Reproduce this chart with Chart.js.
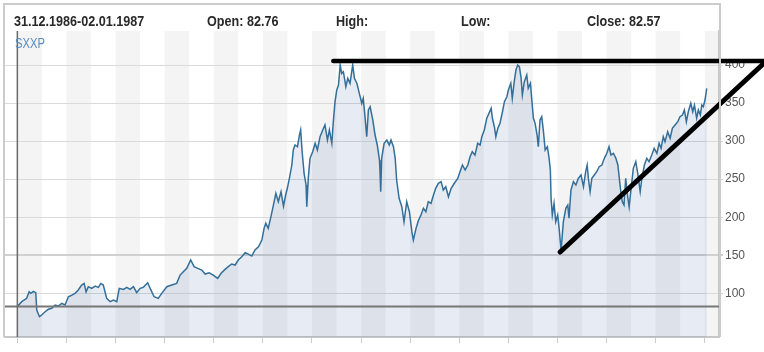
<!DOCTYPE html>
<html>
<head>
<meta charset="utf-8">
<title>SXXP</title>
<script src="https://cdn.jsdelivr.net/npm/chart.js@4.4.1/dist/chart.umd.min.js"></script>
<style>
  html, body { margin: 0; padding: 0; background: #fff; }
  #wrap { position: relative; width: 764px; height: 352px; overflow: hidden; }
  #chart { position: absolute; left: 0; top: 0; }
  .hdr {
    position: absolute; top: 13px; white-space: nowrap;
    font: bold 15px "Liberation Sans", Arial, sans-serif;
    line-height: 15px; color: #2a2a2a;
    transform: scaleX(0.84); transform-origin: 0 0;
  }
  #symbol {
    position: absolute; left: 15px; top: 36px;
    font: 14px "Liberation Sans", Arial, sans-serif;
    line-height: 14px; color: #5a8dbd;
    transform: scaleX(0.8); transform-origin: 0 0;
  }
</style>
</head>
<body>
<div id="wrap">
  <canvas id="chart" width="764" height="352"></canvas>
  <div class="hdr" style="left:14px">31.12.1986-02.01.1987</div>
  <div class="hdr" style="left:207px">Open: 82.76</div>
  <div class="hdr" style="left:336px">High:</div>
  <div class="hdr" style="left:461px">Low:</div>
  <div class="hdr" style="left:587px">Close: 82.57</div>
  <div id="symbol">SXXP</div>
</div>
<script>
// time as decimal years
const sxxpYears = [
  1987.00, 1987.18, 1987.38, 1987.48, 1987.55, 1987.65, 1987.75, 1987.79, 1987.90, 1987.99,
  1988.13, 1988.26, 1988.40, 1988.54, 1988.67, 1988.81, 1988.94, 1989.08, 1989.22, 1989.35,
  1989.48, 1989.62, 1989.72, 1989.80, 1989.89, 1990.03, 1990.17, 1990.30, 1990.40, 1990.50,
  1990.64, 1990.78, 1990.91, 1991.05, 1991.15, 1991.32, 1991.46, 1991.59, 1991.73, 1991.86,
  1992.00, 1992.13, 1992.31, 1992.43, 1992.57, 1992.74, 1992.88, 1993.09, 1993.29, 1993.49,
  1993.63, 1993.76, 1993.90, 1994.06, 1994.20, 1994.35, 1994.51, 1994.65, 1994.81, 1994.98,
  1995.16, 1995.30, 1995.46, 1995.59, 1995.73, 1995.87, 1996.00, 1996.14, 1996.28, 1996.41,
  1996.55, 1996.68, 1996.82, 1996.96, 1997.05, 1997.12, 1997.22, 1997.33, 1997.43, 1997.53,
  1997.63, 1997.74, 1997.84, 1997.93, 1998.01, 1998.08, 1998.18, 1998.24, 1998.31, 1998.41,
  1998.49, 1998.54, 1998.60, 1998.68, 1998.76, 1998.79, 1998.85, 1998.92, 1999.03, 1999.13,
  1999.22, 1999.33, 1999.44, 1999.53, 1999.63, 1999.71, 1999.81, 1999.87, 1999.94, 2000.01,
  2000.08, 2000.15, 2000.21, 2000.28, 2000.38, 2000.46, 2000.55, 2000.66, 2000.73, 2000.83,
  2000.93, 2001.03, 2001.09, 2001.16, 2001.23, 2001.30, 2001.37, 2001.48, 2001.57, 2001.66,
  2001.75, 2001.77, 2001.80, 2001.84, 2001.94, 2002.05, 2002.15, 2002.22, 2002.32, 2002.39,
  2002.45, 2002.55, 2002.66, 2002.75, 2002.86, 2002.97, 2003.07, 2003.13, 2003.24, 2003.33,
  2003.44, 2003.54, 2003.64, 2003.74, 2003.85, 2003.95, 2004.04, 2004.15, 2004.26, 2004.35,
  2004.45, 2004.56, 2004.67, 2004.80, 2004.94, 2005.03, 2005.13, 2005.24, 2005.35, 2005.44,
  2005.53, 2005.64, 2005.75, 2005.85, 2005.92, 2006.02, 2006.12, 2006.21, 2006.30, 2006.35,
  2006.43, 2006.49, 2006.57, 2006.66, 2006.76, 2006.84, 2006.94, 2007.00, 2007.10, 2007.16,
  2007.24, 2007.31, 2007.38, 2007.45, 2007.52, 2007.57, 2007.65, 2007.75, 2007.81, 2007.90,
  2007.95, 2008.02, 2008.09, 2008.17, 2008.22, 2008.29, 2008.36, 2008.43, 2008.50, 2008.59,
  2008.66, 2008.71, 2008.74, 2008.79, 2008.86, 2008.93, 2009.01, 2009.07, 2009.11, 2009.15,
  2009.24, 2009.34, 2009.42, 2009.47, 2009.55, 2009.65, 2009.75, 2009.85, 2009.96, 2010.06,
  2010.15, 2010.21, 2010.26, 2010.33, 2010.40, 2010.50, 2010.60, 2010.70, 2010.81, 2010.91,
  2011.01, 2011.10, 2011.18, 2011.28, 2011.38, 2011.46, 2011.52, 2011.58, 2011.64, 2011.71,
  2011.78, 2011.86, 2011.92, 2012.00, 2012.09, 2012.19, 2012.27, 2012.37, 2012.43, 2012.54,
  2012.64, 2012.73, 2012.84, 2012.94, 2013.05, 2013.14, 2013.22, 2013.31, 2013.38, 2013.49,
  2013.59, 2013.68, 2013.79, 2013.90, 2013.99, 2014.09, 2014.17, 2014.25, 2014.33, 2014.43,
  2014.51, 2014.58, 2014.67, 2014.74, 2014.82, 2014.88, 2014.94, 2015.01, 2015.08
];
const sxxpValues = [
  82.8, 89.0, 93.4, 102.0, 100.0, 102.6, 100.8, 78.0, 69.3, 71.5,
  75.8, 79.0, 80.3, 84.6, 83.3, 86.8, 84.6, 95.5, 97.7, 100.0,
  104.3, 110.9, 113.0, 102.0, 108.7, 106.5, 109.6, 107.8, 113.0, 110.9,
  93.4, 89.0, 91.2, 89.0, 106.5, 105.1, 107.8, 105.1, 108.7, 100.8,
  106.5, 107.8, 113.9, 105.1, 95.5, 93.4, 100.0, 108.7, 110.9, 113.1,
  124.0, 128.4, 132.8, 143.8, 135.0, 132.8, 130.6, 125.3, 127.0, 124.0,
  119.7, 126.3, 131.5, 135.0, 138.5, 137.2, 143.8, 148.1, 153.4, 151.6,
  149.0, 156.9, 161.2, 170.0, 185.4, 192.0, 185.4, 200.7, 216.0, 231.4,
  220.4, 233.5, 214.5, 229.2, 240.0, 251.0, 268.6, 288.3, 294.9, 292.6,
  308.0, 314.6, 286.0, 257.7, 242.3, 213.8, 251.0, 277.4, 286.0, 297.1,
  288.3, 305.8, 314.6, 321.2, 301.4, 314.6, 297.1, 325.5, 351.8, 367.1,
  373.7, 400.0, 389.0, 391.2, 371.5, 382.5, 376.0, 400.0, 382.5, 376.0,
  362.8, 349.7, 356.2, 332.1, 305.8, 340.9, 345.2, 327.7, 308.0, 294.9,
  275.2, 262.0, 233.5, 277.4, 297.1, 301.4, 294.9, 301.4, 292.6, 277.4,
  248.9, 224.8, 213.8, 194.0, 220.4, 207.2, 181.0, 170.0, 185.4, 195.0,
  202.9, 211.7, 207.2, 220.4, 218.3, 229.2, 238.0, 244.6, 246.7, 235.7,
  240.0, 226.9, 238.0, 244.6, 251.0, 259.8, 268.6, 262.0, 268.6, 279.5,
  286.0, 281.7, 297.1, 294.9, 305.8, 314.6, 330.0, 336.5, 343.1, 330.0,
  318.9, 305.8, 316.8, 323.4, 338.6, 351.8, 358.3, 367.1, 376.0, 356.2,
  378.1, 393.4, 400.0, 397.8, 382.5, 360.6, 378.1, 386.9, 369.4, 376.0,
  356.2, 330.0, 323.4, 308.0, 292.6, 327.7, 332.1, 312.4, 288.3, 292.6,
  277.4, 262.0, 224.8, 202.9, 218.3, 194.0, 202.9, 185.0, 170.0, 157.0,
  194.0, 211.7, 216.0, 198.6, 235.7, 246.7, 242.3, 251.0, 255.5, 240.0,
  259.8, 268.6, 251.0, 233.5, 251.0, 255.5, 259.8, 266.4, 268.6, 277.4,
  284.0, 292.6, 281.7, 284.0, 277.4, 268.6, 251.0, 233.5, 220.4, 216.0,
  251.0, 226.9, 213.8, 238.0, 264.2, 273.0, 257.7, 233.5, 248.9, 268.6,
  277.4, 273.0, 281.7, 290.5, 284.0, 297.1, 290.5, 305.8, 299.2, 312.4,
  303.7, 316.8, 321.2, 325.5, 332.1, 334.3, 340.9, 325.5, 338.6, 349.7,
  338.6, 347.4, 330.0, 340.9, 334.3, 347.4, 345.2, 354.0, 369.4
];

const startYear = 1987.0;   // 31.12.1986
const openValue = 82.76;

const yTickValues = [100, 150, 200, 250, 300, 350, 400];
const xTickYears = [1987, 1989, 1991, 1993, 1995, 1997, 1999, 2001, 2003, 2005, 2007, 2009, 2011, 2013, 2015];

// hand drawn lines on top of the chart
const resistanceYears = [1999.87, 2017.42];
const resistanceValues = [405.3, 405.3];
const supportYears = [2009.11, 2017.42];
const supportValues = [154.3, 402.6];

const toPoints = (xs, ys) => xs.map((x, i) => ({ x: x, y: ys[i] }));

// alternating year stripes behind everything
const yearBands = {
    id: "yearBands",
    beforeDraw: (chart) => {
        const ctx = chart.ctx;
        const area = chart.chartArea;
        const x = chart.scales.x;
        ctx.save();
        ctx.fillStyle = "#f4f4f4";
        for (let yr = Math.floor(x.min); yr < x.max; yr++) {
            if (yr % 2 === 0) continue;
            const l = Math.max(area.left, x.getPixelForValue(yr));
            const r = Math.min(area.right, x.getPixelForValue(yr + 1));
            if (r > l) ctx.fillRect(l, area.top, r - l, area.bottom - area.top);
        }
        ctx.restore();
    }
};

// frame, open level line and the start cursor
const overlays = {
    id: "overlays",
    afterDatasetsDraw: (chart) => {
        const ctx = chart.ctx;
        const area = chart.chartArea;
        const x = chart.scales.x;
        const y = chart.scales.y;
        ctx.save();

        const yo = y.getPixelForValue(openValue);
        ctx.strokeStyle = "#777";
        ctx.lineWidth = 2;
        ctx.beginPath();
        ctx.moveTo(area.left, yo);
        ctx.lineTo(area.right, yo);
        ctx.stroke();

        const xs = x.getPixelForValue(startYear);
        ctx.strokeStyle = "#6b6b6b";
        ctx.lineWidth = 1.5;
        ctx.beginPath();
        ctx.moveTo(xs, area.top);
        ctx.lineTo(xs, area.bottom);
        ctx.stroke();

        ctx.strokeStyle = "#cccccc";
        ctx.lineWidth = 2;
        ctx.beginPath();
        ctx.moveTo(area.left - 1, area.bottom);
        ctx.lineTo(area.left - 1, 4);
        ctx.lineTo(area.right + 1, 4);
        ctx.lineTo(area.right + 1, area.bottom);
        ctx.stroke();
        ctx.restore();
    }
};

const initChart = () => {
    const ctx = document.getElementById("chart").getContext("2d");

    new Chart(ctx, {
        type: "line",
        data: {
            datasets: [
                {
                    label: "resistance",
                    data: toPoints(resistanceYears, resistanceValues),
                    borderColor: "#000",
                    borderWidth: 4.5,
                    borderCapStyle: "round",
                    pointRadius: 0,
                    fill: false,
                    clip: false,
                    order: 0
                },
                {
                    label: "support",
                    data: toPoints(supportYears, supportValues),
                    borderColor: "#000",
                    borderWidth: 5,
                    borderCapStyle: "round",
                    pointRadius: 0,
                    fill: false,
                    clip: false,
                    order: 0
                },
                {
                    label: "SXXP",
                    data: toPoints(sxxpYears, sxxpValues),
                    borderColor: "#336f98",
                    borderWidth: 1.5,
                    backgroundColor: "rgba(47, 88, 163, 0.12)",
                    fill: "start",
                    pointRadius: 0,
                    tension: 0,
                    order: 1
                }
            ]
        },
        options: {
            responsive: false,
            animation: false,
            events: [],
            layout: {
                padding: { left: 5, top: 31, right: 0, bottom: 9 }
            },
            plugins: {
                legend: { display: false },
                tooltip: { enabled: false }
            },
            scales: {
                x: {
                    type: "linear",
                    min: 1986.497,
                    max: 2015.58,
                    afterBuildTicks: (scale) => {
                        scale.ticks = xTickYears.map(v => ({ value: v }));
                    },
                    afterFit: (scale) => { scale.height = 6; },
                    ticks: { display: false },
                    grid: {
                        drawOnChartArea: false,
                        drawTicks: true,
                        tickLength: 6,
                        color: "#cccccc"
                    },
                    border: { color: "#c6c6c6", width: 2 }
                },
                y: {
                    position: "right",
                    min: 42.6,
                    max: 444.7,
                    afterBuildTicks: (scale) => {
                        scale.ticks = yTickValues.map(v => ({ value: v }));
                    },
                    afterFit: (scale) => { scale.width = 45; },
                    ticks: {
                        color: "#555",
                        padding: 2,
                        font: { family: "'Liberation Sans', Arial, sans-serif", size: 12 }
                    },
                    grid: {
                        color: (c) => c.tick && c.tick.value === 150 ? "#d0d0d0" : "#dadada",
                        lineWidth: (c) => c.tick && c.tick.value === 150 ? 2 : 1,
                        tickLength: 4
                    },
                    border: { color: "#c6c6c6", width: 2 }
                }
            }
        },
        plugins: [yearBands, overlays]
    });
};

window.addEventListener("load", () => {
    initChart();
});
</script>
</body>
</html>
